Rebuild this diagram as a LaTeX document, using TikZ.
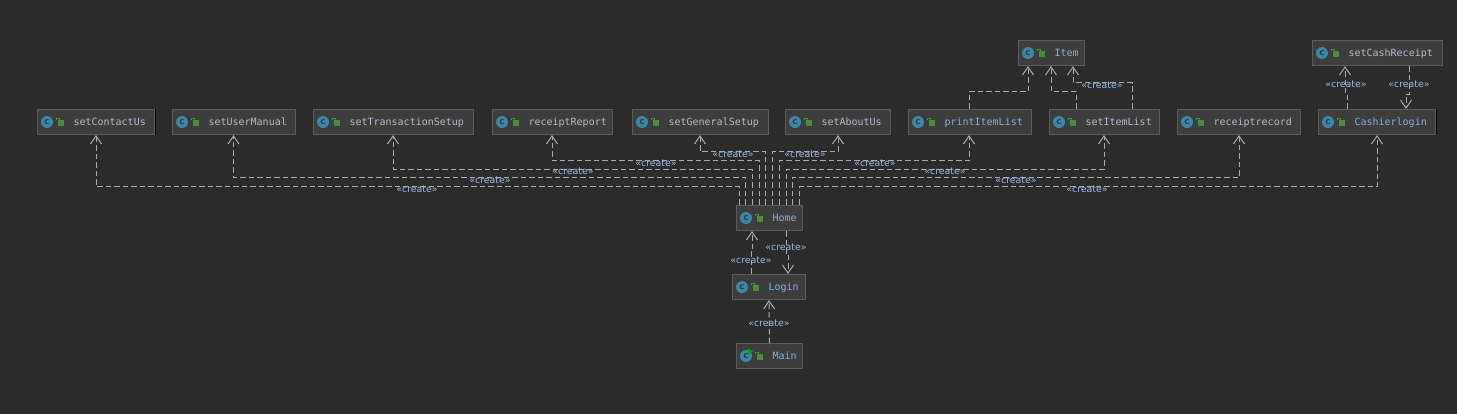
\documentclass[tikz,border=0pt]{standalone}
\usepackage{fontspec}
\usetikzlibrary{arrows.meta}
\newfontfamily\codefont{DejaVu Sans Mono}
\newfontfamily\tagfont{DejaVu Sans}
\definecolor{pagebg}{HTML}{2B2B2B}
\definecolor{boxbg}{HTML}{3D3D3D}
\definecolor{boxline}{HTML}{5C5C5C}
\definecolor{iconteal}{HTML}{3A87A8}
\definecolor{lockgreen}{HTML}{4F8A3A}
\definecolor{depline}{HTML}{ABABAB}
\definecolor{plainname}{HTML}{B0BDCB}
\definecolor{bluename}{HTML}{86AEE4}
\definecolor{tagtext}{HTML}{9ABAE4}
\newcommand{\classbox}[6][plainname]{
\node[classnode,text width=#5pt,text=#1] (#2) at (#3,#4) {\hspace*{36pt}#6};
\node[classicon] (#2c) at ([xshift=10pt]#2.west) {c};
\fill[lockgreen] ([xshift=21pt,yshift=-3.5pt]#2.west) rectangle ([xshift=27pt,yshift=2pt]#2.west);
\draw[lockgreen,line width=1pt] ([xshift=22pt,yshift=2pt]#2.west) -- ++(0,-2) -- ++(-2.5,0) -- ++(0,1.5);
}
\begin{document}
\begin{tikzpicture}[x=1pt,y=-1pt,>={Straight Barb[length=8pt,width=11pt]},
classnode/.style={draw=boxline,fill=boxbg,line width=1.1pt,anchor=north west,inner xsep=0pt,inner ysep=0pt,
  minimum height=25pt,text height=8.5pt,text depth=1.5pt,align=left,font=\codefont\fontsize{10}{12}\selectfont},
classicon/.style={circle,fill=iconteal,inner sep=0pt,minimum size=12pt,text=boxbg,font=\tagfont\bfseries\fontsize{9}{9}\selectfont},
dep/.style={dash pattern=on 5.5pt off 3pt,draw=depline,line width=1pt,->},
tag/.style={text=tagtext,inner sep=0pt,font=\tagfont\fontsize{9.4}{10}\selectfont}]
\useasboundingbox[fill=pagebg] (0,0) rectangle (1457,414);
\classbox{contact}{37}{109}{117}{setContactUs}
\classbox{manual}{172}{109}{123}{setUserManual}
\classbox{transaction}{313}{109}{160}{setTransactionSetup}
\classbox{rreport}{492}{109}{120}{receiptReport}
\classbox{general}{632}{109}{136}{setGeneralSetup}
\classbox{about}{785}{109}{105}{setAboutUs}
\classbox[bluename]{printlist}{908}{109}{123}{printItemList}
\classbox{itemlist}{1049}{109}{110}{setItemList}
\classbox{rrecord}{1177}{109}{123}{receiptrecord}
\classbox[bluename]{cashier}{1318}{109}{117}{Cashierlogin}
\classbox[bluename]{item}{1018}{40}{66}{Item}
\classbox{cashreceipt}{1312}{40}{130}{setCashReceipt}
\classbox[bluename]{home}{736}{205}{66}{Home}
\classbox[bluename]{login}{732}{274}{73}{Login}
\classbox[bluename]{mainclass}{736}{343}{66}{Main}
\fill[green!65!black] ([xshift=12pt,yshift=7.5pt]mainclass.west) -- ++(5,3) -- ++(-5,3) -- cycle;
\draw[black,line width=1.1pt] (contact.north east) -- (contact.south east);
\draw[black,line width=1.1pt] (cashier.north east) -- (cashier.south east);
\foreach \target/\xa/\rise/\xb/\lx/\ly in {contact/3/18/59/417/189,manual/9.5/27/61.5/490/180,transaction/16/35.5/80/573/171,
  rreport/23/44/60/656/163,general/29/53/68/733/154,about/36/53/53/805/154,printlist/43/44/61/875/163,
  itemlist/50/35.5/55/945/171,rrecord/56/27/62/1016/180,cashier/63/18/59/1087/189}
{
\draw[dep] ([xshift=\xa pt]home.north west) -- ++(0,-\rise) -| ([xshift=\xb pt]\target.south west);
\node[tag] (tag\target) at (\lx,\ly) {«create»};
}
\draw[dep] ([xshift=61pt]printlist.north west) -- ++(0,-17) -| ([xshift=10pt]item.south west);
\draw[dep] ([xshift=27pt]itemlist.north west) -- ++(0,-17) -| ([xshift=33pt]item.south west);
\draw[dep] ([xshift=83pt]itemlist.north west) -- ++(0,-26) -| ([xshift=55pt]item.south west);
\node[tag] (tagitem) at (1102,85) {«create»};
\draw[dep] ([xshift=29pt]cashier.north west) -- ++(0,-16) -- ++(-2,0) -- ([xshift=33pt]cashreceipt.south west);
\node[tag] (tagcashup) at (1346,84) {«create»};
\draw[dep] ([xshift=97pt]cashreceipt.south west) -- ++(0,28) -- ++(-3,0) -- ([xshift=88pt]cashier.north west);
\node[tag] (tagcashdown) at (1409,84) {«create»};
\draw[dep] ([xshift=19pt]login.north west) -- ++(0,-22) -- ++(1,0) -- ([xshift=16pt]home.south west);
\node[tag] (taglogin) at (751,260) {«create»};
\draw[dep] ([xshift=50pt]home.south west) -- ++(0,22) -- ++(2,0) -- ([xshift=56pt]login.north west);
\node[tag] (taghome) at (786,247) {«create»};
\draw[dep] ([xshift=33.5pt]mainclass.north west) -- ([xshift=37pt]login.south west);
\node[tag] (tagmain) at (769,323) {«create»};
\end{tikzpicture}
\end{document}
